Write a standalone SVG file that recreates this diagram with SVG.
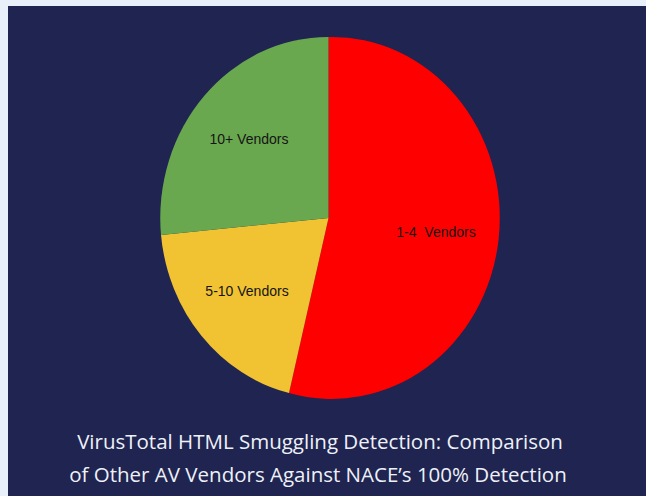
<svg xmlns="http://www.w3.org/2000/svg" width="646" height="496" viewBox="0 0 646 496">
<style>
.lbl{font-family:"Liberation Sans",Arial,sans-serif;font-size:14px;fill:#151515;text-anchor:middle}
.title{font-family:"Open Sans","Noto Sans",sans-serif;font-size:20.5px;font-weight:500;fill:#eef1f8;text-anchor:middle}
</style>
<rect x="0" y="0" width="646" height="496" fill="#eaf0fa"/>
<rect x="8" y="6" width="638" height="490" fill="#1f2450"/>
<g id="slice-1-4">
<path d="M328.5,218 L328.5,37 A168,181 0 1 1 289,393 Z" fill="#ff0000"/>
<text class="lbl" x="436" y="237" xml:space="preserve">1-4  Vendors</text>
</g>
<g id="slice-5-10">
<path d="M328.5,218 L289,393 A168,181 0 0 1 161,235 Z" fill="#f1c232"/>
<text class="lbl" x="247" y="296">5-10 Vendors</text>
</g>
<g id="slice-10plus">
<path d="M328.5,218 L161,235 A168,181 0 0 1 328.5,37 Z" fill="#6aa84f"/>
<text class="lbl" x="249" y="144">10+ Vendors</text>
</g>
<g id="title">
<text class="title" x="320" y="449">VirusTotal HTML Smuggling Detection: Comparison</text>
<text class="title" x="318" y="482">of Other AV Vendors Against NACE’s 100% Detection</text>
</g>
</svg>
